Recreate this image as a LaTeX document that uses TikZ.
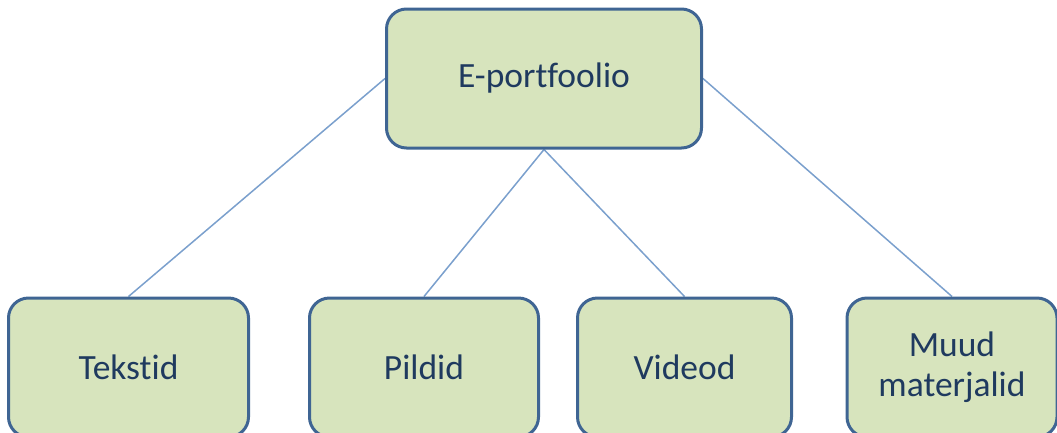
\documentclass[tikz,border=0pt]{standalone}
\usepackage{fontspec}
\setmainfont{Carlito}[Ligatures={NoCommon}]
\usetikzlibrary{backgrounds}
\definecolor{boxfill}{HTML}{D7E4BD}
\definecolor{boxborder}{HTML}{3F6593}
\definecolor{linkcol}{HTML}{7BA0CD}
\definecolor{textcol}{HTML}{1F3A5F}
\begin{document}
\begin{tikzpicture}[x=1pt,y=-1pt,
  box/.style={draw=boxborder, line width=3pt, fill=boxfill,
    rounded corners=20pt, minimum height=139pt, inner sep=0pt,
    text=textcol, font=\fontsize{35.5}{40}\selectfont, align=center},
  link/.style={draw=linkcol, line width=1.5pt}]
\useasboundingbox (0,0) rectangle (1057,432);

% parent node
\node[box, minimum width=315pt] (top) at (544,78.5) {E-portfoolio};

% child nodes
\node[box, minimum width=240pt] (tekstid) at (128.5,367.5) {Tekstid};
\node[box, minimum width=229pt] (pildid)  at (424,367.5) {Pildid};
\node[box, minimum width=214pt] (videod)  at (684.5,367.5) {Videod};
\node[box, minimum width=210pt] (muud)    at (952,367.5) {Muud\\materjalid};

% connectors behind the boxes
\begin{pgfonlayer}{background}
  \draw[link] (top.west)  -- (tekstid.north);
  \draw[link] (top.south) -- (pildid.north);
  \draw[link] (top.south) -- (videod.north);
  \draw[link] (top.east)  -- (muud.north);
\end{pgfonlayer}
\end{tikzpicture}
\end{document}
